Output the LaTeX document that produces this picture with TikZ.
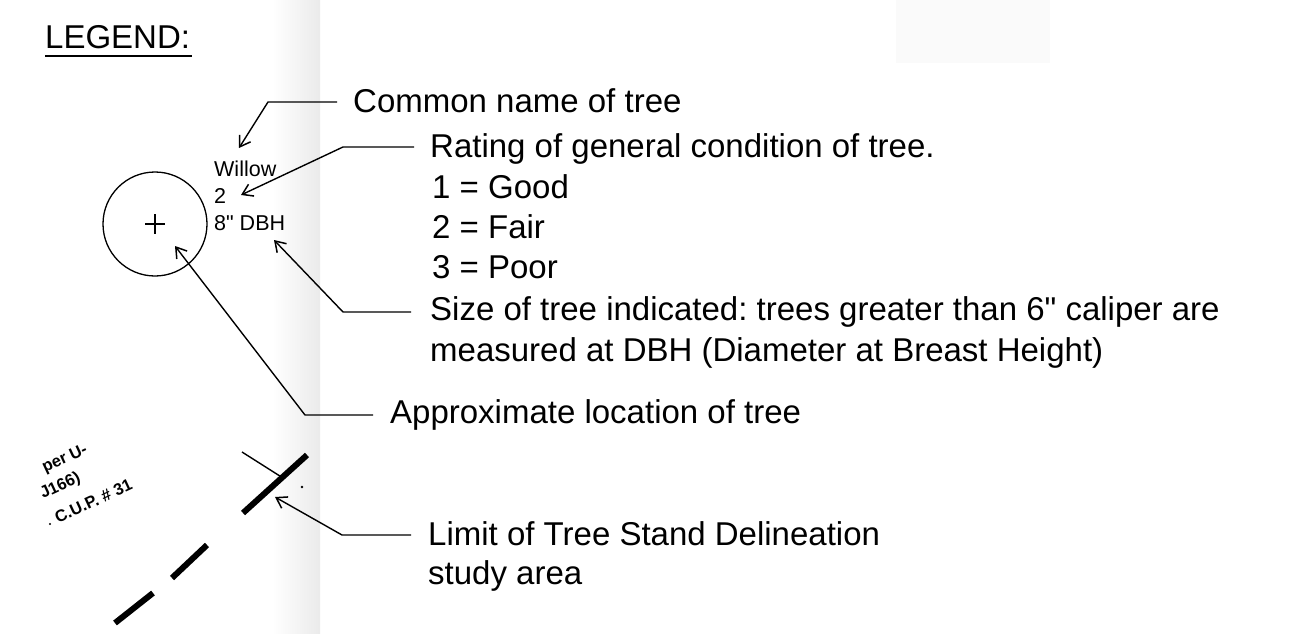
\documentclass[tikz,border=0pt]{standalone}
\usepackage{fontspec}
\setmainfont{Liberation Sans}[Ligatures=TeXOff]
\usetikzlibrary{arrows.meta}
\frenchspacing
\begin{document}
\begin{tikzpicture}[x=1pt,y=-1pt,
  lbl/.style={anchor=base west,inner sep=0pt,font=\fontsize{33}{40}\selectfont},
  small/.style={anchor=base west,inner sep=0pt,font=\fontsize{21.5}{27}\selectfont},
  tiny/.style={anchor=base west,inner sep=0pt,rotate=25,font=\fontsize{16.5}{19}\selectfont\bfseries},
  leader/.style={line width=1.4pt,line join=round,-{Straight Barb[length=10pt,width=13pt,line width=1.5pt]}},
  thin/.style={line width=1.4pt},
  limitline/.style={line width=6pt},
  band/.style={left color=white,right color=black!8,draw=none}]
\useasboundingbox (0,0) rectangle (1299,634);
\fill[white] (0,0) rectangle (1299,634);
% scan artefacts
\shade[band] (272,0) rectangle (320,634);
\fill[black!2] (896,0) rectangle (1050,63);
% title
\node[lbl] (legend) at (45,49) {LEGEND:};
\draw[line width=2pt] (legend.base west) ++(0,7) -- ++(147,0);
% tree symbol
\node[circle,draw,line width=1.3pt,minimum size=104pt,inner sep=0pt] (tree) at (155,224) {};
\draw[line width=1.3pt] (tree.center) ++(-10,0) -- ++(20,0);
\draw[line width=1.3pt] (tree.center) ++(0,-10) -- ++(0,20);
\node[small] (willow) at (214,176) {Willow};
\node[small] (rate) at (214,203) {2};
\node[small] (dbh) at (214,230) {8" DBH};
% descriptions
\node[lbl] (common) at (353,113) {Common name of tree};
\node[lbl] (rating) at (430,157) {Rating of general condition of tree.};
\node[lbl] (good) at (432,198) {1 = Good};
\node[lbl] (fair) at (432,238) {2 = Fair};
\node[lbl] (poor) at (432,278) {3 = Poor};
\node[lbl] (size) at (430,320) {Size of tree indicated: trees greater than 6" caliper are};
\node[lbl] (measured) at (430,361) {measured at DBH (Diameter at Breast Height)};
\node[lbl] (approx) at (390,423) {Approximate location of tree};
\node[lbl] (limit) at (428,545) {Limit of Tree Stand Delineation};
\node[lbl] (study) at (428,584) {study area};
% leader coordinates
\coordinate (s1) at (337,102); \coordinate (k1) at (268,102); \coordinate (t1) at (239,148);
\coordinate (s2) at (414,147); \coordinate (k2) at (343,147); \coordinate (t2) at (241,195);
\coordinate (s3) at (411,312); \coordinate (k3) at (343,312); \coordinate (t3) at (274,240);
\coordinate (s4) at (373,415); \coordinate (k4) at (305,415); \coordinate (t4) at (175,246);
\coordinate (s5) at (411,535); \coordinate (k5) at (342,535); \coordinate (t5) at (275,497);
\draw[leader] (s1) -- (k1) -- (t1);
\draw[leader] (s2) -- (k2) -- (t2);
\draw[leader] (s3) -- (k3) -- (t3);
\draw[leader] (s4) -- (k4) -- (t4);
\draw[leader] (s5) -- (k5) -- (t5);
% limit of study area line
\coordinate (a1) at (307,455); \coordinate (a2) at (243,513);
\coordinate (b1) at (207,545); \coordinate (b2) at (172,578);
\coordinate (c1) at (153,593); \coordinate (c2) at (115,623);
\draw[limitline] (a1) -- (a2);
\draw[limitline] (b1) -- (b2);
\draw[limitline] (c1) -- (c2);
\coordinate (x1) at (242,452); \coordinate (x2) at (283,478);
\draw[thin] (x1) -- (x2);
\fill (302,487) circle (1.3pt);
% rotated fragments
\node[tiny] (f1) at (45,473) {per U-};
\node[tiny] (f2) at (43,499) {J166)};
\node[tiny] (f3) at (58,524) {C.U.P. \# 31};
\fill (50,524) circle (1.2pt);
\end{tikzpicture}
\end{document}
